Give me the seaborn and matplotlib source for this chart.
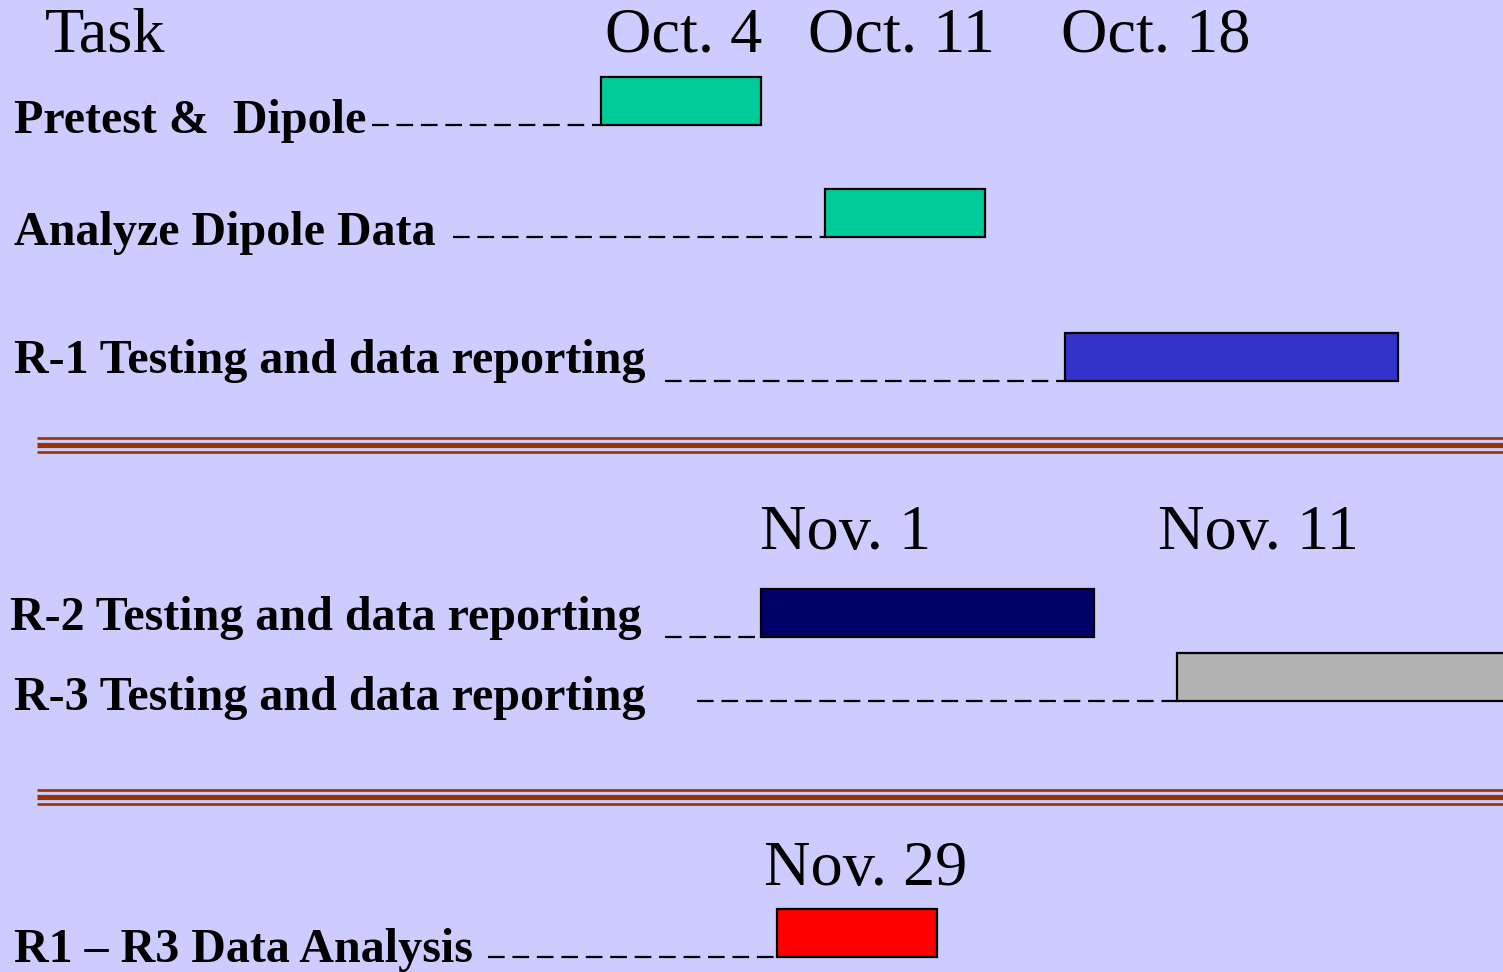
import matplotlib
matplotlib.use("Agg")
import matplotlib.pyplot as plt
import seaborn as sns

# ---- data ----
tasks = ["Pretest &  Dipole", "Analyze Dipole Data", "R-1 Testing and data reporting",
         "R-2 Testing and data reporting", "R-3 Testing and data reporting",
         "R1 \u2013 R3 Data Analysis"]
starts = [601, 825, 1065, 761, 1177, 777]      # timeline position of bar start
finishes = [761, 985, 1398, 1094, 1520, 937]   # timeline position of bar end
bar_colors = ["#00CC99", "#00CC99", "#3333CC", "#000066", "#B2B2B2", "#FF0000"]

section1_dates = ["Oct. 4", "Oct. 11", "Oct. 18"]
section2_dates = ["Nov. 1", "Nov. 11"]
section3_dates = ["Nov. 29"]

# ---- layout ----
BG = "#CCCCFF"
BROWN = "#993300"
W, H = 1503, 972

sns.set_theme(style="white")
plt.rcParams["font.family"] = ["Liberation Serif", "DejaVu Serif"]
plt.rcParams["text.color"] = "black"

fig = plt.figure(figsize=(W / 100, H / 100), dpi=100, facecolor=BG)
ax = fig.add_axes([0, 0, 1, 1])
ax.set_facecolor(BG)
ax.set_xlim(0, W)
ax.set_ylim(H, 0)
ax.axis("off")

row_y = [101, 213, 357, 613, 677, 933]
bar_h = 48
label_x = [14, 14, 14, 10, 14, 14]
label_base = [133, 245, 373, 630, 710, 962]
leader_start = [372, 453, 665, 665, 697, 488]

ax.barh(row_y, [f - s for s, f in zip(starts, finishes)], left=starts,
        height=bar_h, color=bar_colors, edgecolor="black", linewidth=1.6, zorder=3)

for t, lx, lb, ls, s, y in zip(tasks, label_x, label_base, leader_start, starts, row_y):
    ax.text(lx, lb, t, fontsize=34.6, fontweight="bold", color="black",
            ha="left", va="baseline")
    yb = y + bar_h / 2
    ax.plot([ls, s], [yb, yb], color="black", lw=1.6,
            dashes=(7.5, 3.5), zorder=2, solid_capstyle="butt", dash_capstyle="butt")

# headers
hdr_fs = 46.3
ax.text(45, 52, "Task", fontsize=hdr_fs, color="black", ha="left", va="baseline")
for d, x in zip(section1_dates, [605, 808, 1061]):
    ax.text(x, 52, d, fontsize=hdr_fs, color="black", ha="left", va="baseline")
for d, x in zip(section2_dates, [760, 1158]):
    ax.text(x, 549, d, fontsize=hdr_fs, color="black", ha="left", va="baseline")
for d, x in zip(section3_dates, [764]):
    ax.text(x, 885, d, fontsize=hdr_fs, color="black", ha="left", va="baseline")

# separators (triple rule)
for base in [438, 790]:
    ax.plot([37, W], [base, base], color=BROWN, lw=1.9, solid_capstyle="butt")
    ax.plot([37, W], [base + 7, base + 7], color=BROWN, lw=3.7, solid_capstyle="butt")
    ax.plot([37, W], [base + 13.5, base + 13.5], color=BROWN, lw=1.9, solid_capstyle="butt")

fig.savefig("out.png", dpi=100, facecolor=BG)
